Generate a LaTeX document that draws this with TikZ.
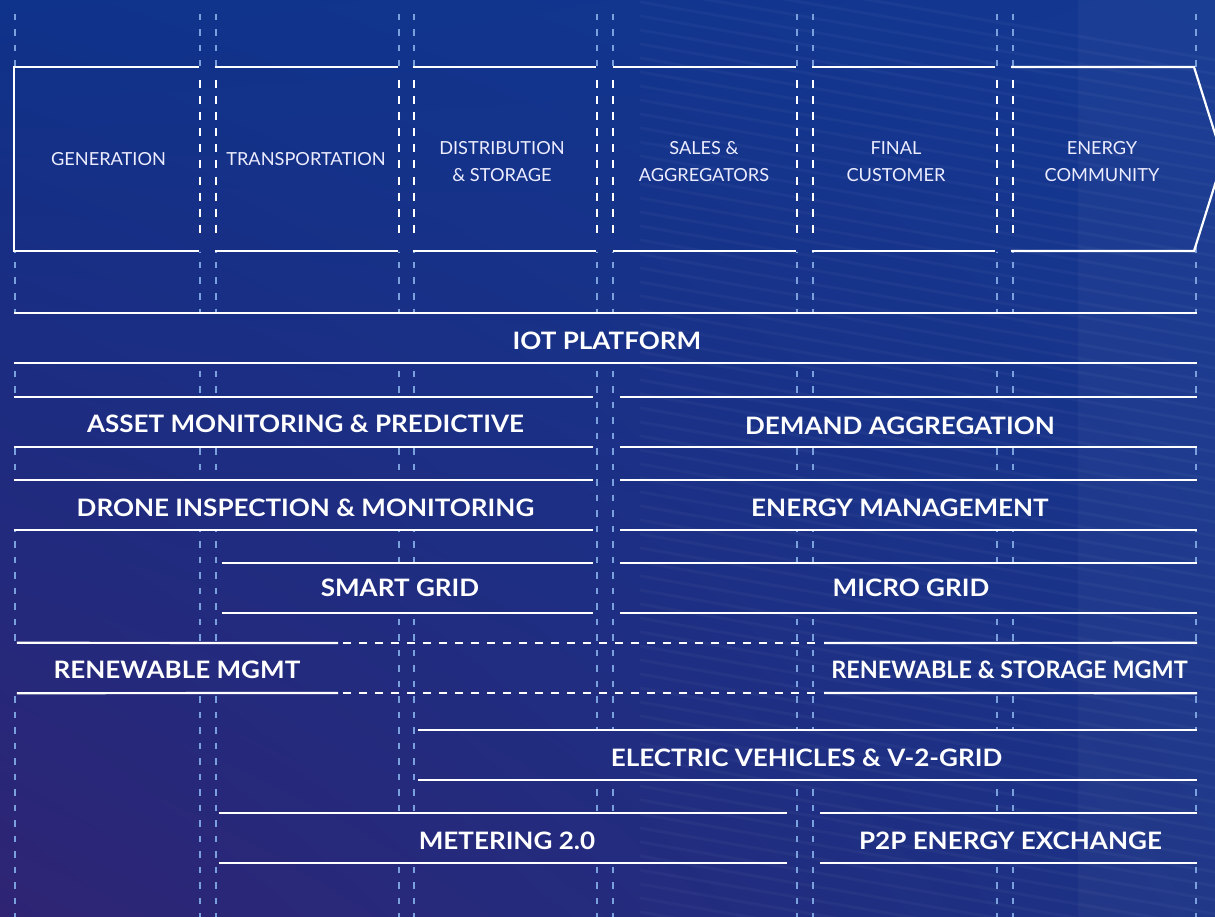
\documentclass[tikz,border=0pt]{standalone}
\usepackage{fontspec}
\usetikzlibrary{shadings}
\newfontfamily\bandfont{Lato}[FakeStretch=1.085]
\newfontfamily\bandfontn{Lato}[FakeStretch=0.975]
\newfontfamily\stagefont{Lato}[FakeStretch=1.01]
\definecolor{gridblue}{RGB}{122,160,222}
\definecolor{bgUL}{RGB}{15,50,138}
\definecolor{bgUR}{RGB}{20,56,146}
\definecolor{bgLL}{RGB}{47,36,116}
\definecolor{bgLR}{RGB}{26,50,134}
\begin{document}
\begin{tikzpicture}[x=1pt,y=-1pt,
  gridline/.style={draw=gridblue, line width=2pt, dash pattern=on 6.5pt off 9pt},
  wdash/.style={draw=white, line width=2pt, dash pattern=on 8pt off 8.1pt},
  bline/.style={draw=white, line width=2.2pt},
  bdash/.style={draw=white, line width=2.2pt, dash pattern=on 8pt off 8pt},
  stage/.style={text=white!93!blue, font=\stagefont\fontsize{18}{27}\selectfont, align=center, inner sep=0pt},
  blabel/.style={text=white, font=\bandfont\bfseries\fontsize{24}{27}\selectfont, inner sep=0pt, anchor=base},
  band/.style={minimum height=50pt, inner sep=0pt, draw=none},
]
\useasboundingbox (0,0) rectangle (1215,917);
% background
\shade[upper left=bgUL, upper right=bgUR, lower left=bgLL, lower right=bgLR] (0,0) rectangle (1215,917);
\begin{scope}
  \clip (640,0) rectangle (1215,917);
  \foreach \i in {0,...,70} {
    \draw[white, opacity=0.03, line width=3pt] (640,{\i*14-40}) -- (1215,{\i*14+60});
  }
  \fill[white, opacity=0.03] (1078,0) rectangle (1215,917);
\end{scope}

% light blue dashed grid (hidden behind bands)
\begin{scope}[even odd rule]
  \clip (-5,-5) rectangle (1220,922)
    (12,66) -- (1194,66) -- (1226,159) -- (1194,252) -- (12,252) -- cycle
    (12,312) rectangle (1199,364)
    (12,396) rectangle (594,448)
    (619,396) rectangle (1199,448)
    (12,479) rectangle (594,531)
    (619,479) rectangle (1199,531)
    (221,562) rectangle (594,614)
    (619,562) rectangle (1199,614)
    (12,642) rectangle (339,694)
    (823,642) rectangle (1199,694)
    (417,729) rectangle (1199,781)
    (218,812) rectangle (788,864)
    (819,812) rectangle (1199,864);
  \foreach \x in {15,200,216,399,414,597,613,797,813,997,1013,1196}
    \draw[gridline] (\x,14) -- (\x,917);
\end{scope}

% value chain stages
\node[stage] (gen) at (108.5,159.5) {GENERATION};
\node[stage] (tra) at (306,159.5) {TRANSPORTATION};
\node[stage] (dis) at (502,162) {DISTRIBUTION\\\& STORAGE};
\node[stage] (sal) at (704,162) {SALES \&\\AGGREGATORS};
\node[stage] (fin) at (896,162) {FINAL\\CUSTOMER};
\node[stage] (ene) at (1102,162) {ENERGY\\COMMUNITY};

\coordinate (c1) at (14,67);   \coordinate (c1b) at (14,251);
\coordinate (d1) at (199,67);  \coordinate (d1b) at (199,251);
\coordinate (c2) at (215,67);  \coordinate (c2b) at (215,251);
\coordinate (d2) at (398,67);  \coordinate (d2b) at (398,251);
\coordinate (c3) at (413,67);  \coordinate (c3b) at (413,251);
\coordinate (d3) at (596,67);  \coordinate (d3b) at (596,251);
\coordinate (c4) at (613,67);  \coordinate (c4b) at (613,251);
\coordinate (d4) at (796,67);  \coordinate (d4b) at (796,251);
\coordinate (c5) at (812,67);  \coordinate (c5b) at (812,251);
\coordinate (d5) at (995,67);  \coordinate (d5b) at (995,251);
\coordinate (c6) at (1011,67); \coordinate (c6b) at (1011,251);
\coordinate (d6) at (1194,67); \coordinate (d6b) at (1194,251);
\coordinate (tip) at (1223,159);

\draw[bline] (d1) -- (c1) -- (c1b) -- (d1b);
\draw[bline] (c2) -- (d2) (c2b) -- (d2b);
\draw[bline] (c3) -- (d3) (c3b) -- (d3b);
\draw[bline] (c4) -- (d4) (c4b) -- (d4b);
\draw[bline] (c5) -- (d5) (c5b) -- (d5b);
\draw[bline, line join=miter] (c6) -- (d6) -- (tip) -- (d6b) -- (c6b);
\foreach \x in {200,216,399,414,597,613,797,813,997,1013}
  \draw[wdash] (\x,80) -- (\x,235);

% bands
\node[band, minimum width=1183pt] (iot) at (605.5,338) {};
\node[band, minimum width=579pt] (asset) at (303.5,422) {};
\node[band, minimum width=577pt] (demand) at (908.5,422) {};
\node[band, minimum width=579pt] (drone) at (303.5,505) {};
\node[band, minimum width=577pt] (energy) at (908.5,505) {};
\node[band, minimum width=371pt] (smart) at (407.5,588) {};
\node[band, minimum width=577pt] (micro) at (908.5,588) {};
\node[band, minimum width=1180pt] (renew) at (607,668) {};
\coordinate (rsL) at (338,643); \coordinate (rsLb) at (338,693);
\coordinate (rdL) at (343,643); \coordinate (rdLb) at (343,693);
\coordinate (rdR) at (820,643); \coordinate (rdRb) at (820,693);
\coordinate (rsR) at (824,643); \coordinate (rsRb) at (824,693);
\node[band, minimum width=779pt] (ev) at (807.5,755) {};
\node[band, minimum width=568pt] (meter) at (503,838) {};
\node[band, minimum width=377pt] (ptp) at (1008.5,838) {};

\foreach \b in {iot,asset,demand,drone,energy,smart,micro,ev,meter,ptp}
  \draw[bline] (\b.north west) -- (\b.north east) (\b.south west) -- (\b.south east);
\draw[bline] (renew.north west) -- (rsL) (renew.south west) -- (rsLb);
\draw[bline] (rsR) -- (renew.north east) (rsRb) -- (renew.south east);
\draw[bdash] (rdL) -- (rdR) (rdLb) -- (rdRb);

% band labels
\node[blabel] (tiot) at (607,349.5) {IOT PLATFORM};
\node[blabel] (tasset) at (305.5,432) {ASSET MONITORING \& PREDICTIVE};
\node[blabel] (tdemand) at (900,434) {DEMAND AGGREGATION};
\node[blabel] (tdrone) at (305.5,516) {DRONE INSPECTION \& MONITORING};
\node[blabel] (tenergy) at (900,516) {ENERGY MANAGEMENT};
\node[blabel] (tsmart) at (400,596) {SMART GRID};
\node[blabel] (tmicro) at (911,596) {MICRO GRID};
\node[blabel] (trenL) at (177,678) {RENEWABLE MGMT};
\node[blabel, font=\bandfontn\bfseries\fontsize{24}{27}\selectfont] (trenR) at (1009.5,678) {RENEWABLE \& STORAGE MGMT};
\node[blabel] (tev) at (806.5,766) {ELECTRIC VEHICLES \& V-2-GRID};
\node[blabel] (tmeter) at (507,849) {METERING 2.0};
\node[blabel] (tptp) at (1010.5,849) {P2P ENERGY EXCHANGE};
\end{tikzpicture}
\end{document}
